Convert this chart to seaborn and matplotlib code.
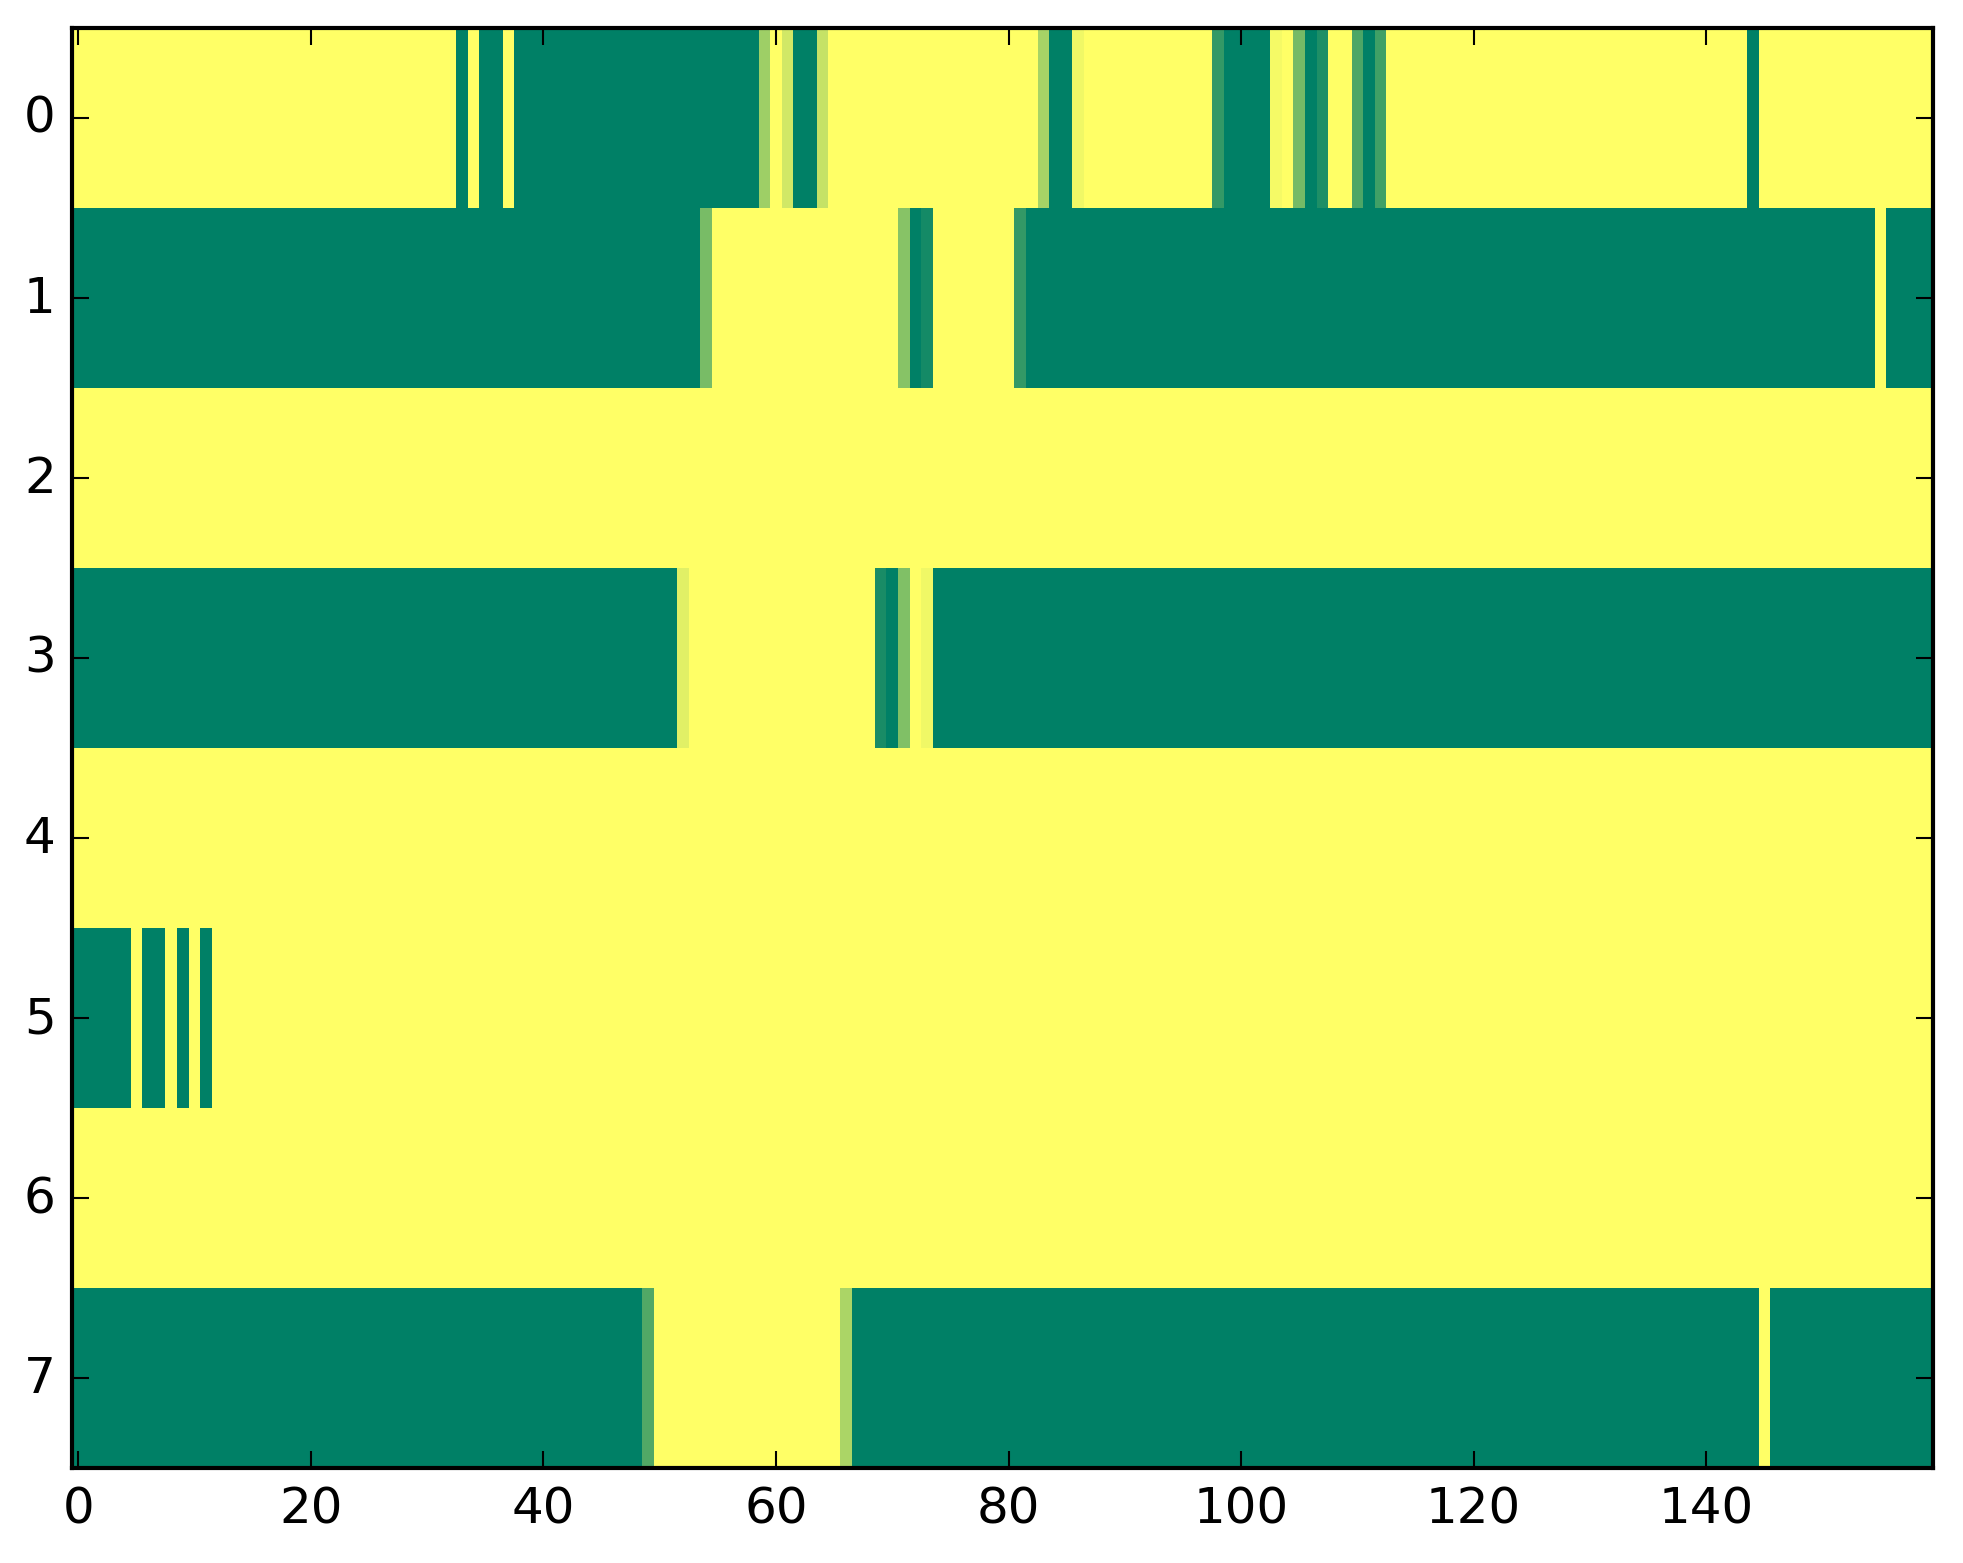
import numpy as np
import pandas as pd
import seaborn as sns
import matplotlib.pyplot as plt

# each row is a list of (value, run length), 160 columns per row
row0 = [(1, 33), (0, 1), (1, 1), (0, 2), (1, 1), (0, 21), (0.62, 1), (1, 1), (0.82, 1),
        (0, 2), (0.77, 1), (1, 18), (0.65, 1), (0, 2), (0.94, 1), (1, 11), (0.2, 1),
        (0, 4), (0.96, 1), (1, 1), (0.46, 1), (0, 1), (0.12, 1), (1, 2), (0.3, 1),
        (0, 1), (0.25, 1), (1, 31), (0, 1), (1, 15)]
row1 = [(0, 54), (0.47, 1), (1, 16), (0.53, 1), (0, 1), (0.08, 1), (1, 7), (0.2, 1),
        (0, 73), (1, 1), (0, 4)]
row2 = [(1, 160)]
row3 = [(0, 52), (0.88, 1), (1, 16), (0.1, 1), (0, 1), (0.5, 1), (1, 1), (0.94, 1), (0, 86)]
row4 = [(1, 160)]
row5 = [(0, 5), (1, 1), (0, 2), (1, 1), (0, 1), (1, 1), (0, 1), (1, 148)]
row6 = [(1, 160)]
row7 = [(0, 49), (0.32, 1), (1, 16), (0.67, 1), (0, 78), (1, 1), (0, 14)]

rows = [row0, row1, row2, row3, row4, row5, row6, row7]
x_ticks = [0, 20, 40, 60, 80, 100, 120, 140]
y_ticks = [0, 1, 2, 3, 4, 5, 6, 7]


def expand(runs):
    vals = [v for v, n in runs]
    counts = [n for v, n in runs]
    return np.repeat(vals, counts)


df = pd.DataFrame([expand(r) for r in rows])

plt.style.use('classic')
plt.rcParams['font.size'] = 12

fig = plt.figure(figsize=(1963 / 300, 1564 / 300), dpi=300, facecolor='white')
ax = fig.add_axes([0.0369, 0.0607, 0.9478, 0.9208])

sns.heatmap(df, cmap='summer', vmin=0, vmax=1, cbar=False,
            xticklabels=False, yticklabels=False, ax=ax)

# heatmap removes the frame; put it back like plain imshow
for s in ax.spines.values():
    s.set_visible(True)
    s.set_linewidth(1)
    s.set_color('black')

ax.set_xticks(np.array(x_ticks) + 0.5)
ax.set_xticklabels(x_ticks)
ax.set_yticks(np.array(y_ticks) + 0.5)
ax.set_yticklabels(y_ticks, rotation=0, va='center')
ax.tick_params(direction='in', top=True, right=True, length=4, width=0.5,
               labelsize=12, pad=4)
ax.tick_params(axis='x', labelbottom=True, labeltop=False)
ax.tick_params(axis='y', labelleft=True, labelright=False)
ax.set_xlabel('')
ax.set_ylabel('')

fig.savefig('out.png', dpi=300, facecolor='white')
